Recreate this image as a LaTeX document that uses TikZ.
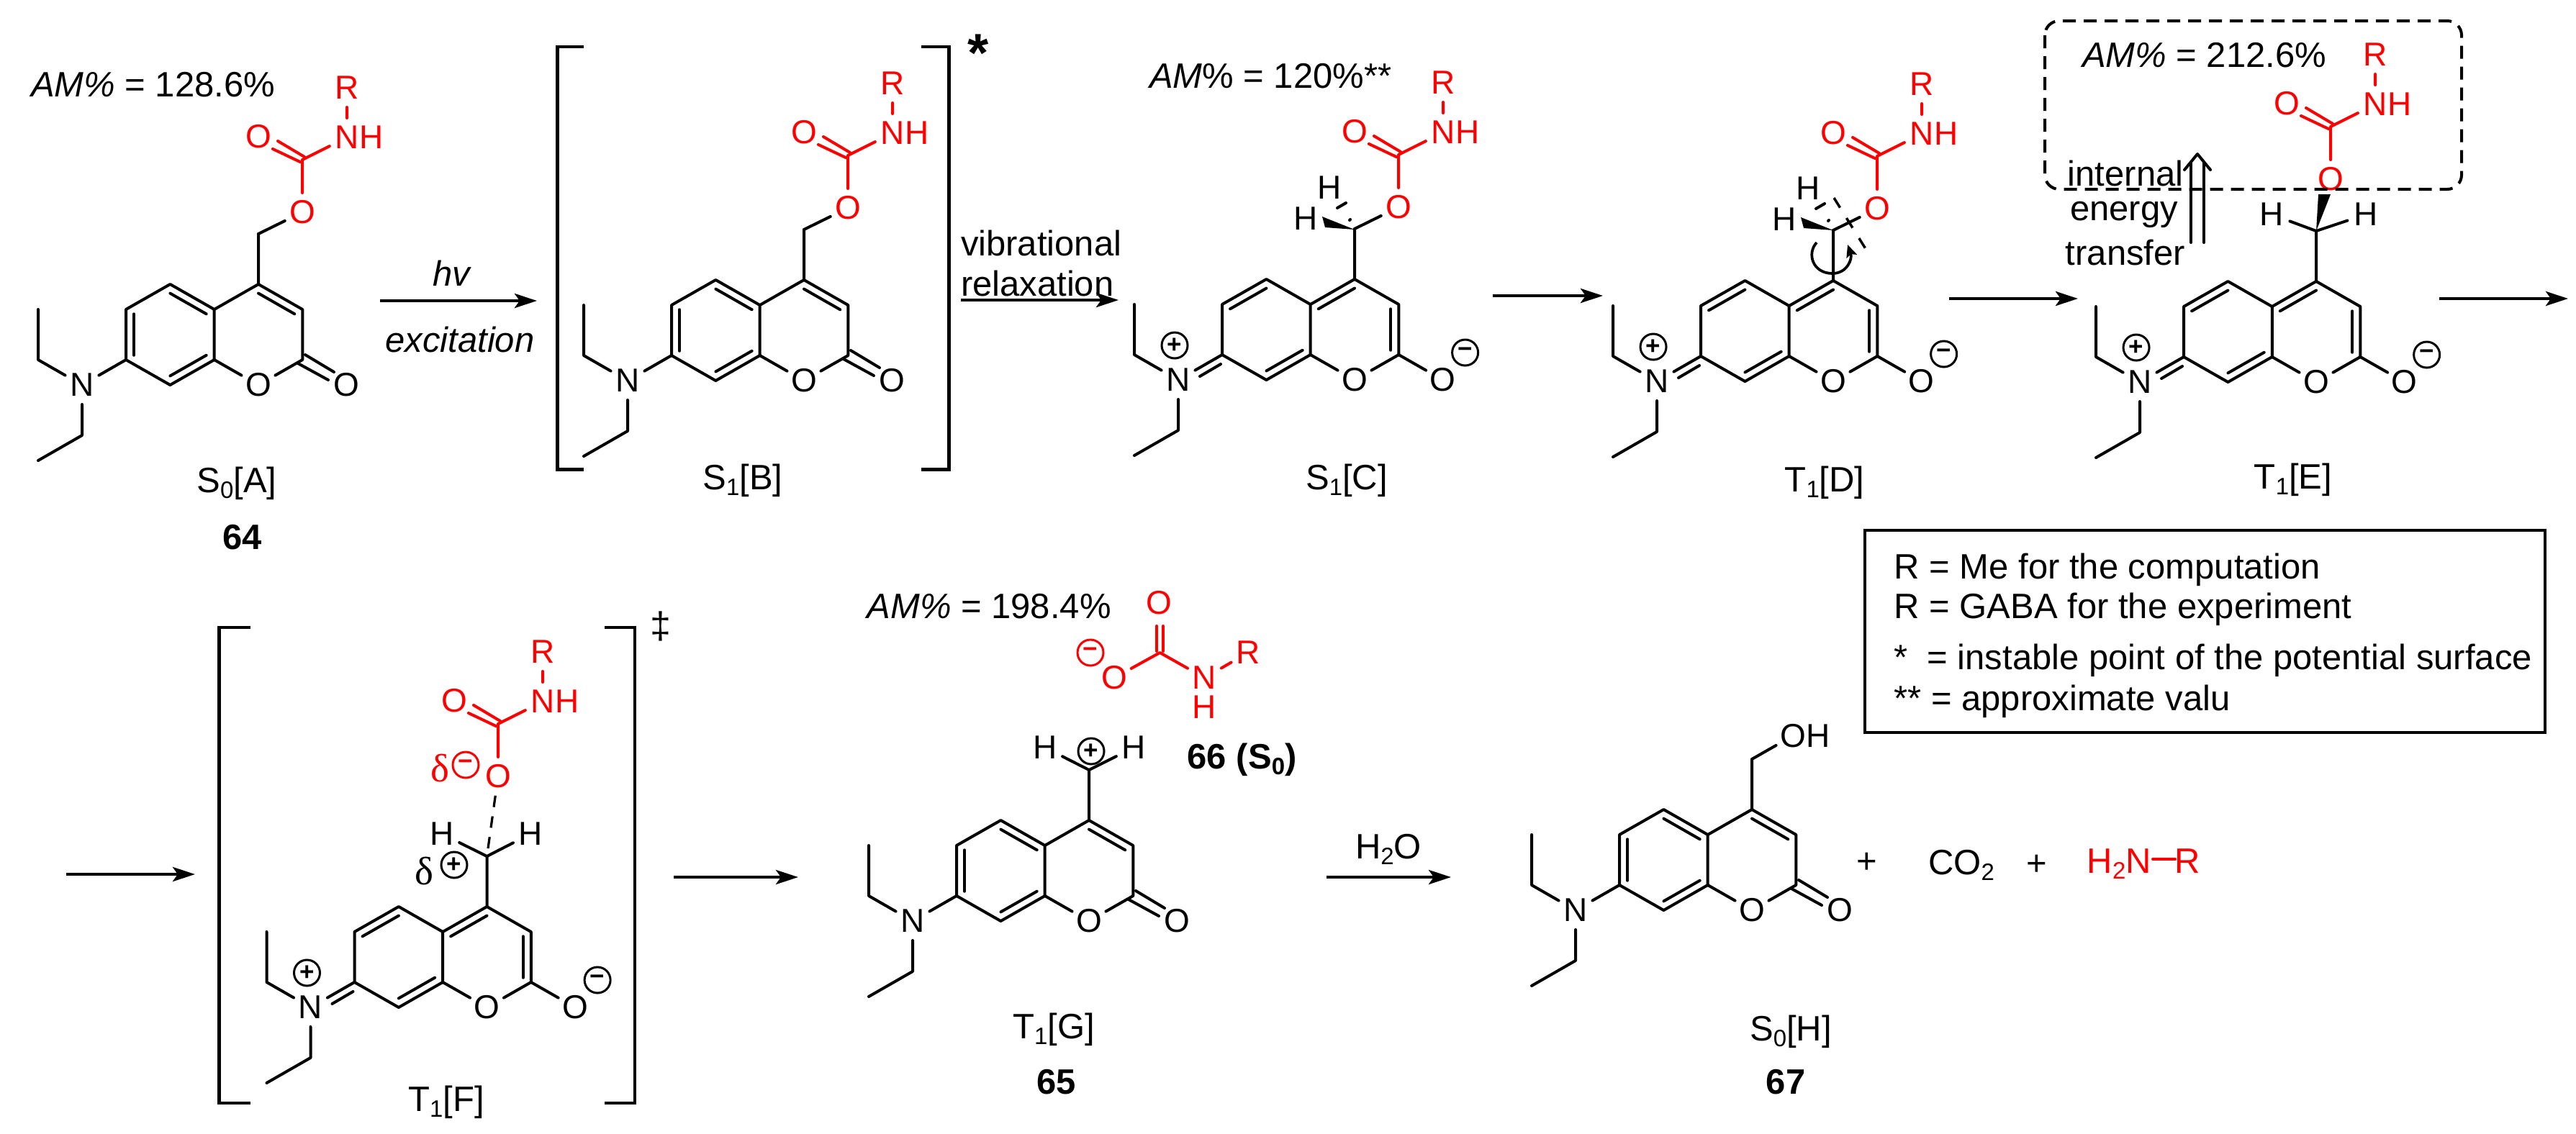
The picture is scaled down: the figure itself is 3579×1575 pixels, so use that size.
\documentclass[tikz,border=0pt]{standalone}
\usepackage{fontspec}
\setmainfont{Liberation Sans}
\newfontfamily\serifgr{Liberation Serif}
\usetikzlibrary{calc,arrows.meta}
\definecolor{chemred}{HTML}{FF0000}
\newcommand\lowidx[1]{\raisebox{-0.32ex}{\fontsize{6.6}{7}\selectfont #1}}
\tikzset{
  bond/.style={line width=0.8pt,line join=round,line cap=round},
  rbond/.style={bond,draw=chemred},
  atom/.style={circle,inner sep=0pt,minimum size=10.4pt,font=\fontsize{9.2}{11}\selectfont},
  ratom/.style={atom,text=chemred},
  lbl/.style={inner sep=0pt,font=\fontsize{9.8}{12}\selectfont},
  chg/.style={circle,draw,line width=0.6pt,inner sep=0pt,minimum size=7.2pt,font=\bfseries\fontsize{7}{7}\selectfont},
  rxn/.style={line width=0.9pt,-{Stealth[length=6.2pt,width=4pt,inset=1.4pt]}},
  brk/.style={line width=0.9pt,line join=miter},
}
\newcommand\dblin[3]{\draw[bond] ($(#1)!.82!(#2)$) -- ($(#1)!.82!(#3)$);}
\newcommand\skel[3]{%
 \begin{scope}[shift={(#2,#3)}]
  \coordinate (#1c4) at (0,0);
  \coordinate (#1c4a) at (-61.3,35);
  \coordinate (#1c5) at (-122.6,0);
  \coordinate (#1c6) at (-184,35);
  \coordinate (#1c7) at (-184,105);
  \coordinate (#1c8) at (-122.6,140);
  \coordinate (#1c8a) at (-61.3,105);
  \coordinate (#1c2) at (61.3,105);
  \coordinate (#1c3) at (61.3,35);
  \coordinate (#1ca) at (-306,105);
  \coordinate (#1cb) at (-306,35);
  \coordinate (#1cc) at (-245,210);
  \coordinate (#1cd) at (-306,245);
  \coordinate (#1cm) at (0,-70);
  \coordinate (#1rc) at (0,70);
  \coordinate (#1lc) at (-122.6,70);
  \node[atom] (#1o1) at (0,140) {O};
  \node[atom] (#1n) at (-245,140) {N};
  \draw[bond] (#1c4)--(#1c4a)--(#1c5)--(#1c6)--(#1c7)--(#1c8)--(#1c8a)--(#1c4a);
  \draw[bond] (#1c8a)--(#1o1)--(#1c2)--(#1c3)--(#1c4)--(#1cm);
  \draw[bond] (#1c7)--(#1n)--(#1ca)--(#1cb);
  \draw[bond] (#1n)--(#1cc)--(#1cd);
 \end{scope}}
\newcommand\neutral[3]{%
 \skel{#1}{#2}{#3}
 \dblin{#1rc}{#1c4}{#1c3}
 \dblin{#1lc}{#1c5}{#1c4a}
 \dblin{#1lc}{#1c6}{#1c7}
 \dblin{#1lc}{#1c8}{#1c8a}
 \begin{scope}[shift={(#2,#3)}]
  \node[atom] (#1ox) at (122.6,140) {O};
  \draw[bond] (65,98) -- (105,122);
  \draw[bond] (55,110) -- (97,133);
 \end{scope}}
\newcommand\quinoid[3]{%
 \skel{#1}{#2}{#3}
 \dblin{#1rc}{#1c4}{#1c4a}
 \dblin{#1lc}{#1c5}{#1c6}
 \dblin{#1lc}{#1c8}{#1c8a}
 \dblin{#1rc}{#1c3}{#1c2}
 \begin{scope}[shift={(#2,#3)}]
  \node[atom] (#1ox) at (122.6,140) {O};
  \draw[bond] (#1c2) -- (#1ox);
  \draw[bond] (-186,118) -- (-215,135);
  \node[chg] (#1mi) at (153.6,102) {−};
  \node[chg] (#1pl) at (-250,92) {+};
 \end{scope}}
\newcommand\carb[3]{%
 \begin{scope}[shift={(#2,#3)}]
  \coordinate (#1cc) at (0,0);
  \node[ratom] (#1oe) at (0,73) {O};
  \node[ratom] (#1od) at (-61,-32) {O};
  \node[ratom] (#1nn) at (62,-31) {N};
  \node[ratom] (#1hh) at (96,-31) {H};
  \node[ratom] (#1rr) at (62,-100) {R};
  \draw[rbond] (#1oe)--(#1cc)--(#1nn)--(#1rr);
  \draw[rbond] (3,-4) -- (-34,-26);
  \draw[rbond] (-3,3) -- (-41,-15);
 \end{scope}}
\newcommand\hydrogens[3]{%
 \begin{scope}[shift={(#2,#3)}]
  \coordinate (#1tip) at (0,0);
  \coordinate (#1wa) at (-45,-18);
  \coordinate (#1wb) at (-41,-3);
  \fill (#1tip) -- (#1wa) -- (#1wb) -- cycle;
  \node[atom] (#1hu) at (-35,-58) {H};
  \node[atom] (#1hl) at (-68,-15) {H};
  \draw[bond] (-24,-30) -- (-12,-37);
  \draw[bond] (-7,-13) -- (-6,-14);
 \end{scope}}
\begin{document}
\begin{tikzpicture}[x=0.2pt,y=-0.2pt]
\useasboundingbox (0,0) rectangle (3579,1575);
\fill[white] (0,0) rectangle (3579,1575);

%% ---------- A
\neutral{A}{359}{395}
\carb{A}{420}{222}
\draw[bond] (Acm) -- (Aoe);
\node[lbl,anchor=base west] (amA) at (42,134) {\textit{AM\%} = 128.6\%};
\node[lbl] (sA) at (329,672) {S\lowidx{0}[A]};
\node[lbl,font=\bfseries\fontsize{9.8}{12}\selectfont] (nA) at (337,747) {64};

%% arrow A->B
\coordinate (a1s) at (528,418); \coordinate (a1e) at (746,418);
\draw[rxn] (a1s) -- (a1e);
\node[lbl,font=\itshape\fontsize{9.8}{12}\selectfont] (hv) at (627,380) {hv};
\node[lbl,font=\itshape\fontsize{9.8}{12}\selectfont] (exc) at (639,472) {excitation};

%% ---------- B
\draw[brk] (811,65) -- (774.5,65) -- (774.5,652.5) -- (811,652.5);
\draw[brk] (1280,65) -- (1318.6,65) -- (1318.6,652.5) -- (1280,652.5);
\node[lbl,font=\bfseries\fontsize{15}{16}\selectfont] (starB) at (1359,74) {*};
\neutral{B}{1117}{389}
\carb{B}{1178}{216}
\draw[bond] (Bcm) -- (Boe);
\node[lbl] (sB) at (1032,668) {S\lowidx{1}[B]};

%% arrow B->C
\coordinate (a2s) at (1335,417); \coordinate (a2e) at (1554,417);
\draw[rxn] (a2s) -- (a2e);
\node[lbl,anchor=base west] (vib) at (1334,355) {vibrational};
\node[lbl,anchor=base west] (rel) at (1334,411) {relaxation};

%% ---------- C
\quinoid{C}{1882}{388}
\carb{C}{1943}{215}
\draw[bond] (Ccm) -- (Coe);
\hydrogens{C}{1882}{319}
\node[lbl,anchor=base west] (amC) at (1596,122.4) {\textit{AM}\% = 120\%**};
\node[lbl] (sC) at (1871,668) {S\lowidx{1}[C]};

\coordinate (a3s) at (2074,411); \coordinate (a3e) at (2227,411);
\draw[rxn] (a3s) -- (a3e);

%% ---------- D
\quinoid{D}{2547}{390}
\carb{D}{2608}{217}
\draw[bond] (Dcm) -- (Doe);
\hydrogens{D}{2547}{320}
\coordinate (dda) at (2548,275); \coordinate (ddb) at (2594,349);
\draw[line width=0.7pt,dash pattern=on 3.2pt off 3.4pt] (dda) -- (ddb);
\coordinate (rota) at (2524,337); \coordinate (rotb) at (2546,380); \coordinate (rotc) at (2567,340);
\draw[line width=0.75pt,-{Stealth[length=3.4pt,width=3pt,inset=.6pt]}] (rota) .. controls (2510,352) and (2518,380) .. (rotb) .. controls (2566,380) and (2574,360) .. (rotc);
\node[lbl] (sD) at (2535,671) {T\lowidx{1}[D]};

\coordinate (a4s) at (2708,415); \coordinate (a4e) at (2887,415);
\draw[rxn] (a4s) -- (a4e);

%% ---------- E
\quinoid{E}{3218}{391}
\carb{E}{3238}{176}
\coordinate (Ewa) at (3221,270); \coordinate (Ewb) at (3238,270);
\fill (Ecm) -- (Ewa) -- (Ewb) -- cycle;
\node[atom] (Ehl) at (3156,298) {H};
\node[atom] (Ehr) at (3287,298) {H};
\draw[bond] (Ehl) -- (Ecm) -- (Ehr);
\draw[line width=0.8pt,dash pattern=on 3.6pt off 2.2pt,rounded corners=4pt] (2841,29) rectangle (3420,263);
\node[lbl,anchor=base west] (amE) at (2892,93.4) {\textit{AM\%} = 212.6\%};
\coordinate (ula) at (3044,337); \coordinate (ulb) at (3044,226);
\coordinate (ura) at (3062,337); \coordinate (urb) at (3062,226);
\coordinate (uh) at (3053,214); \coordinate (uhl) at (3035,236); \coordinate (uhr) at (3071,236);
\draw[bond] (ula) -- (ulb);
\draw[bond] (ura) -- (urb);
\draw[bond] (uhl) -- (uh) -- (uhr);
\node[lbl] (t1) at (2953,241) {internal};
\node[lbl] (t2) at (2951,298) {energy};
\node[lbl] (t3) at (2953,351) {transfer};
\node[lbl] (sE) at (3186,667) {T\lowidx{1}[E]};

\coordinate (a5s) at (3389,415); \coordinate (a5e) at (3568,415);
\draw[rxn] (a5s) -- (a5e);

%% ---------- legend
\node[draw,line width=0.9pt,outer sep=0pt,minimum width=189pt,minimum height=56.2pt,inner sep=0pt,anchor=north west] (legend) at (2591,737) {};
\node[lbl,anchor=base west] (l1) at (2630.5,804) {R = Me for the computation};
\node[lbl,anchor=base west] (l2) at (2630.5,859) {R = GABA for the experiment};
\node[lbl,anchor=base west] (l3) at (2630.5,930) {*\hspace{5.4pt}= instable point of the potential surface};
\node[lbl,anchor=base west] (l4) at (2630.5,987) {** = approximate valu};

%% ---------- F
\coordinate (a6s) at (92,1215); \coordinate (a6e) at (271,1215);
\draw[rxn] (a6s) -- (a6e);
\draw[brk] (348,872) -- (304.6,872) -- (304.6,1533) -- (348,1533);
\draw[brk] (839.5,872) -- (882,872) -- (882,1533) -- (839.5,1533);
\node[lbl,font=\fontsize{10.4}{12}\selectfont] (ddag) at (918,870) {‡};
\quinoid{F}{676.5}{1260}
\carb{F}{692}{1006}
\node[atom] (Fhl) at (614,1159) {H};
\node[atom] (Fhr) at (737,1159) {H};
\draw[bond] (Fhl) -- (Fcm) -- (Fhr);
\draw[line width=0.65pt,dash pattern=on 3.2pt off 2.6pt] (Foe) -- (Fcm);
\node[lbl,text=chemred,font=\serifgr\fontsize{11}{12}\selectfont] (dm) at (611,1068) {δ};
\node[chg,draw=chemred,text=chemred] (dmc) at (647,1063) {−};
\node[lbl,font=\serifgr\fontsize{11}{12}\selectfont] (dp) at (589,1211) {δ};
\node[chg] (dpc) at (631,1202) {+};
\node[lbl] (sF) at (620,1532) {T\lowidx{1}[F]};

\coordinate (a7s) at (936,1219); \coordinate (a7e) at (1109,1219);
\draw[rxn] (a7s) -- (a7e);

%% ---------- G
\neutral{G}{1513}{1140}
\node[atom] (Ghl) at (1452,1039) {H};
\node[atom] (Ghr) at (1575,1039) {H};
\draw[bond] (Ghl) -- (Gcm) -- (Ghr);
\node[chg] (Gpl) at (1516,1044) {+};
\node[lbl,anchor=base west] (amG) at (1203.6,859.6) {\textit{AM\%} = 198.4\%};
\coordinate (acc) at (1611.5,907);
\node[ratom] (ao1) at (1610.7,838) {O};
\node[ratom] (ao2) at (1548,942) {O};
\node[ratom] (an) at (1673.5,942) {N};
\node[ratom] (anh) at (1673.5,983) {H};
\node[ratom] (ar) at (1734,907) {R};
\node[chg,draw=chemred,text=chemred] (ami) at (1515,907) {−};
\draw[rbond] (ao2) -- (acc) -- (an) -- (ar);
\draw[rbond] (1607,870) -- (1607,905);
\draw[rbond] (1616,870) -- (1616,905);
\node[lbl,font=\bfseries\fontsize{9.8}{12}\selectfont] (n66) at (1725.5,1056) {66 (S\lowidx{0})};
\node[lbl] (sG) at (1464,1430.6) {T\lowidx{1}[G]};
\node[lbl,font=\bfseries\fontsize{9.8}{12}\selectfont] (n65) at (1467.6,1504) {65};

\coordinate (a8s) at (1843,1219); \coordinate (a8e) at (2016,1219);
\draw[rxn] (a8s) -- (a8e);
\node[lbl] (hto) at (1929,1180.6) {H\lowidx{2}O};

%% ---------- H
\neutral{H}{2434}{1125}
\node[ratom,text=black] (Hoh) at (2491,1022.5) {O};
\node[atom] (Hhh) at (2526,1022.5) {H};
\draw[bond] (Hcm) -- (Hoh);
\node[lbl] (sH) at (2488,1434) {S\lowidx{0}[H]};
\node[lbl,font=\bfseries\fontsize{9.8}{12}\selectfont] (n67) at (2481,1503.6) {67};
\node[lbl] (p1) at (2594,1199) {+};
\node[lbl] (co2) at (2725,1202) {CO\lowidx{2}};
\node[lbl] (p2) at (2830,1202) {+};
\node[lbl,text=chemred,anchor=base west] (h2n) at (2898.6,1213) {H\lowidx{2}N};
\node[lbl,text=chemred,anchor=base east] (rfin) at (3058,1213) {R};
\coordinate (nra) at (2991,1194); \coordinate (nrb) at (3022,1194);
\draw[rbond] (nra) -- (nrb);
\end{tikzpicture}
\end{document}
